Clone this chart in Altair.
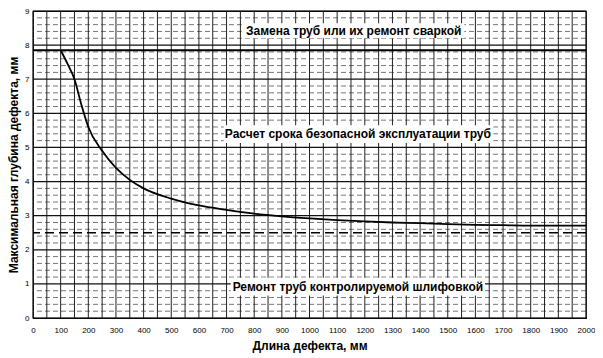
import altair as alt
import pandas as pd
import numpy as np

# Curve: critical defect depth vs defect length
curve_x = [100, 125, 150, 175, 200, 250, 300, 350, 400, 500, 600, 700, 800, 900,
           1000, 1100, 1200, 1300, 1400, 1500, 1600, 1700, 1800, 1900, 2000]
curve_y = [7.85, 7.45, 7.0, 6.25, 5.6, 4.9, 4.4, 4.05, 3.8, 3.5, 3.3, 3.17, 3.06, 2.98,
           2.92, 2.87, 2.83, 2.80, 2.78, 2.75, 2.73, 2.72, 2.71, 2.71, 2.71]

upper_limit = 7.85
lower_limit = 2.5

label_text = ["Замена труб или их ремонт сваркой",
              "Расчет срока безопасной эксплуатации труб",
              "Ремонт труб контролируемой шлифовкой"]
label_x = [1160, 1175, 1175]
label_y = [8.42, 5.39, 0.92]
box_x1 = [755, 690, 715]
box_x2 = [1560, 1665, 1635]
box_y1 = [8.2, 5.13, 0.66]
box_y2 = [8.64, 5.65, 1.18]

x_ticks = list(range(0, 2001, 100))
y_ticks = list(range(0, 10))
x_grid = list(range(0, 2001, 50))
y_minor = [round(v, 1) for v in np.arange(0.2, 9.0, 0.2) if abs(v - round(v)) > 0.05]

FONT = "Liberation Sans"

xs = alt.Scale(domain=[0, 2000], nice=False, zero=False)
ys = alt.Scale(domain=[0, 9], nice=False, zero=False)

xa = alt.Axis(title="Длина дефекта, мм", values=x_ticks, grid=False,
              format="d", labelOverlap=False, labelFlush=False,
              labelFontSize=8, labelFont=FONT, titleFont=FONT,
              titleFontSize=12, titleFontWeight="bold",
              tickSize=0, labelPadding=8, domainColor="black",
              labelColor="black", titleColor="black", titlePadding=6)
ya = alt.Axis(title="Максимальная глубина дефекта, мм", values=y_ticks,
              format="d", labelOverlap=False, labelFlush=False,
              grid=False, labelFontSize=8, labelFont=FONT, titleFont=FONT,
              titleFontSize=12, titleFontWeight="bold", tickSize=0,
              labelPadding=4, domainColor="black", labelColor="black",
              titleColor="black", titlePadding=4)

df_curve = pd.DataFrame({"x": curve_x, "y": curve_y})
df_minor = pd.DataFrame({"y": y_minor})
df_vgrid = pd.DataFrame({"x": x_grid})
df_hgrid = pd.DataFrame({"y": y_ticks})
df_lines = pd.DataFrame({"y": [upper_limit]})
df_dash = pd.DataFrame({"y": [lower_limit]})
df_boxes = pd.DataFrame({"x1": box_x1, "x2": box_x2, "y1": box_y1, "y2": box_y2})
df_labels = pd.DataFrame({"t": label_text, "x": label_x, "y": label_y})

minor = alt.Chart(df_minor).mark_rule(color="#555555", strokeWidth=0.8,
                                      strokeDash=[5, 3]).encode(
    y=alt.Y("y:Q", scale=ys, axis=ya))
vgrid = alt.Chart(df_vgrid).mark_rule(color="#222222", strokeWidth=1).encode(
    x=alt.X("x:Q", scale=xs, axis=xa))
hgrid = alt.Chart(df_hgrid).mark_rule(color="#111111", strokeWidth=1.2).encode(
    y=alt.Y("y:Q", scale=ys, axis=ya))
limit = alt.Chart(df_lines).mark_rule(color="black", strokeWidth=1.8).encode(
    y=alt.Y("y:Q", scale=ys, axis=ya))
dash = alt.Chart(df_dash).mark_rule(color="black", strokeWidth=1.5,
                                    strokeDash=[9, 5]).encode(
    y=alt.Y("y:Q", scale=ys, axis=ya))
boxes = alt.Chart(df_boxes).mark_rect(color="white").encode(
    x=alt.X("x1:Q", scale=xs, axis=xa), x2="x2:Q",
    y=alt.Y("y1:Q", scale=ys, axis=ya), y2="y2:Q")
curve = alt.Chart(df_curve).mark_line(color="black", strokeWidth=1.8,
                                      interpolate="monotone").encode(
    x=alt.X("x:Q", scale=xs, axis=xa), y=alt.Y("y:Q", scale=ys, axis=ya))
labels = alt.Chart(df_labels).mark_text(font=FONT, fontSize=12, fontWeight="bold",
                                        color="black", align="center",
                                        baseline="middle").encode(
    x=alt.X("x:Q", scale=xs, axis=xa), y=alt.Y("y:Q", scale=ys, axis=ya),
    text="t:N")

chart = alt.layer(minor, vgrid, hgrid, limit, dash, boxes, curve, labels).properties(
    width=553, height=307,
    autosize=alt.AutoSizeParams(type="none"),
    padding={"left": 25, "top": 3, "right": 9, "bottom": 40},
    background="white",
).configure_view(stroke="black", strokeWidth=1.2)

chart.save("out.html", embed_options={"renderer": "svg", "actions": False})
